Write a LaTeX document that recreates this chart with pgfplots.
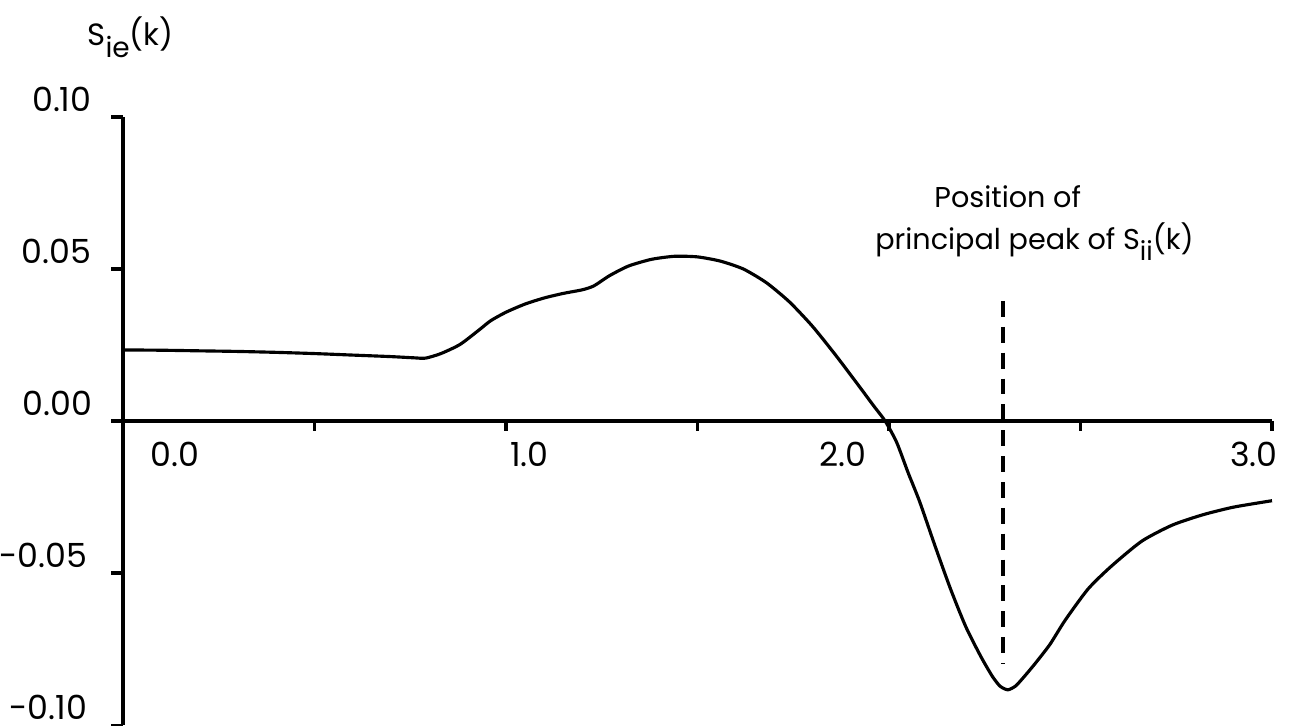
\documentclass[border=0pt]{standalone}
\usepackage{pgfplots}
\pgfplotsset{compat=1.18}
\usepackage{fontspec}
\setmainfont{Poppins}

% S_ie(k)
\pgfplotstableread{
k      S
0.00   0.0234
0.10   0.0233
0.20   0.0231
0.30   0.0229
0.40   0.0226
0.50   0.0222
0.60   0.0217
0.70   0.0212
0.76   0.0208
0.79   0.0207
0.83   0.0222
0.88   0.0252
0.93   0.0300
0.96   0.0330
1.00   0.0358
1.05   0.0385
1.10   0.0405
1.15   0.0420
1.20   0.0432
1.23   0.0445
1.27   0.0478
1.32   0.0510
1.38   0.0532
1.44   0.0542
1.50   0.0540
1.56   0.0526
1.62   0.0500
1.68   0.0455
1.74   0.0392
1.80   0.0312
1.86   0.0218
1.92   0.0118
1.96   0.0050
1.99   0.0000
2.02  -0.0070
2.05  -0.0170
2.08  -0.0265
2.12  -0.0410
2.16  -0.0550
2.20  -0.0675
2.24  -0.0775
2.27  -0.0840
2.29  -0.0872
2.31  -0.0884
2.33  -0.0872
2.35  -0.0845
2.38  -0.0800
2.42  -0.0735
2.46  -0.0655
2.52  -0.0552
2.58  -0.0478
2.66  -0.0395
2.74  -0.0342
2.82  -0.0308
2.90  -0.0283
3.00  -0.0262
}\sie

\begin{document}
\begin{tikzpicture}
\begin{axis}[
  scale only axis,
  width=11.552cm, height=6.113cm,
  xmin=0, xmax=3, ymin=-0.1, ymax=0.1,
  axis lines=none, clip=false,
  font=\fontsize{9.5}{11}\selectfont,
]
% axes and ticks
\draw[line width=0.9pt] (axis cs:0,0.1) -- (axis cs:0,-0.1);
\draw[line width=0.9pt] (axis cs:0,0) -- (axis cs:3,0);
\pgfplotsinvokeforeach{-0.1,-0.05,0,0.05,0.1}{
  \draw[line width=0.9pt] (axis cs:0,#1) -- ([xshift=-0.12cm]axis cs:0,#1);
}
\pgfplotsinvokeforeach{0.5,1,1.5,2,2.5,3}{
  \draw[line width=0.9pt] (axis cs:#1,0) -- ([yshift=-0.1cm]axis cs:#1,0);
}

% curve
\addplot[black, line width=0.9pt, smooth, tension=0.4] table[x=k, y=S] {\sie};

% position of the principal peak of S_ii(k)
\addplot[black, line width=1pt, dash pattern=on 0.16cm off 0.10cm]
  coordinates {(2.297,0.0395) (2.297,-0.0797)};

% tick labels
\node[anchor=base east] at (axis cs:-0.050,0.1018) {0.10};
\node[anchor=base east] at (axis cs:-0.050,0.0518) {0.05};
\node[anchor=base east] at (axis cs:-0.048,0.0018) {0.00};
\node[anchor=base east] at (axis cs:-0.062,-0.0482) {-0.05};
\node[anchor=base east] at (axis cs:-0.062,-0.0982) {-0.10};

\node[anchor=base west] at (axis cs:0.039,-0.0148) {0.0};
\node[anchor=base west] at (axis cs:0.979,-0.0148) {1.0};
\node[anchor=base east] at (axis cs:1.974,-0.0148) {2.0};
\node[anchor=base east] at (axis cs:3.047,-0.0148) {3.0};

% axis title and annotation
\node[anchor=base west] at (axis cs:-0.125,0.1236)
  {\fontsize{8.8}{10}\selectfont S\raisebox{-0.7ex}{\fontsize{8}{9}\selectfont ie}(k)};
\node[anchor=base] at (axis cs:2.31,0.0702)
  {\fontsize{8.2}{10}\selectfont Position of};
\node[anchor=base west] at (axis cs:1.932,0.0563)
  {\fontsize{8.2}{10}\selectfont principal peak of S\raisebox{-0.7ex}{\fontsize{7.5}{9}\selectfont ii}(k)};

\coordinate (BL) at (axis cs:-0.3211,-0.1003);
\coordinate (TR) at (axis cs:3.0548,0.1385);
\end{axis}
\pgfresetboundingbox
\path[use as bounding box] (BL) rectangle (TR);
\end{tikzpicture}
\end{document}
